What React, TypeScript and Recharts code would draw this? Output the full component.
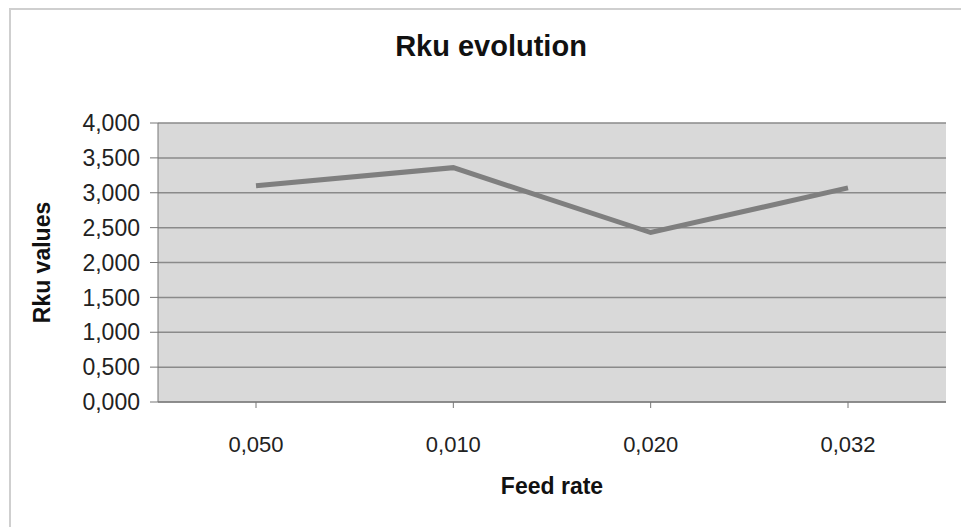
import { LineChart, Line, XAxis, YAxis, CartesianGrid } from "recharts";

const feedRates = ["0,050", "0,010", "0,020", "0,032"];
const rkuValues = [3.1, 3.36, 2.43, 3.07];
const yTicks = [0, 0.5, 1, 1.5, 2, 2.5, 3, 3.5, 4];

const data = feedRates.map((name, i) => ({ name, rku: rkuValues[i] }));

const fmt = (v: number) => v.toFixed(3).replace(".", ",");

export default function App() {
  return (
    <div
      style={{
        position: "absolute",
        left: 0,
        top: 0,
        width: 961,
        height: 527,
        background: "#fff",
        fontFamily: "'Liberation Sans', Arial, sans-serif",
      }}
    >
      <div
        style={{
          position: "absolute",
          left: 9,
          top: 8,
          width: 952,
          height: 519,
          borderLeft: "2px solid #cfcfcf",
          borderTop: "2px solid #cfcfcf",
        }}
      />
      <div
        style={{
          position: "absolute",
          left: 0,
          top: 30,
          width: 982,
          textAlign: "center",
          fontWeight: "bold",
          fontSize: 29,
          color: "#111",
        }}
      >
        Rku evolution
      </div>
      <div style={{ position: "absolute", left: 0, top: 0 }}>
        <LineChart
          width={961}
          height={527}
          data={data}
          margin={{ top: 123, right: 15, bottom: 0, left: 0 }}
        >
          <CartesianGrid
            vertical={false}
            stroke="#8a8a8a"
            strokeWidth={1.5}
            fill="#d9d9d9"
          />
          <XAxis
            dataKey="name"
            height={125}
            padding={{ left: 98, right: 98 }}
            tickSize={6}
            tickMargin={28}
            stroke="#777"
            tick={{ fontSize: 22, fill: "#222" }}
            label={{
              value: "Feed rate",
              position: "insideBottom",
              offset: 33,
              style: { fontSize: 23, fontWeight: "bold", fill: "#111" },
            }}
          />
          <YAxis
            width={158}
            domain={[0, 4]}
            ticks={yTicks}
            tickFormatter={fmt}
            tickSize={8}
            tickMargin={10}
            stroke="#777"
            tick={{ fontSize: 23, fill: "#222" }}
            label={{
              value: "Rku values",
              angle: -90,
              position: "insideLeft",
              offset: 42,
              style: {
                fontSize: 23,
                fontWeight: "bold",
                fill: "#111",
                textAnchor: "middle",
              },
            }}
          />
          <Line
            type="linear"
            dataKey="rku"
            stroke="#7f7f7f"
            strokeWidth={5}
            dot={false}
            isAnimationActive={false}
          />
        </LineChart>
      </div>
    </div>
  );
}
